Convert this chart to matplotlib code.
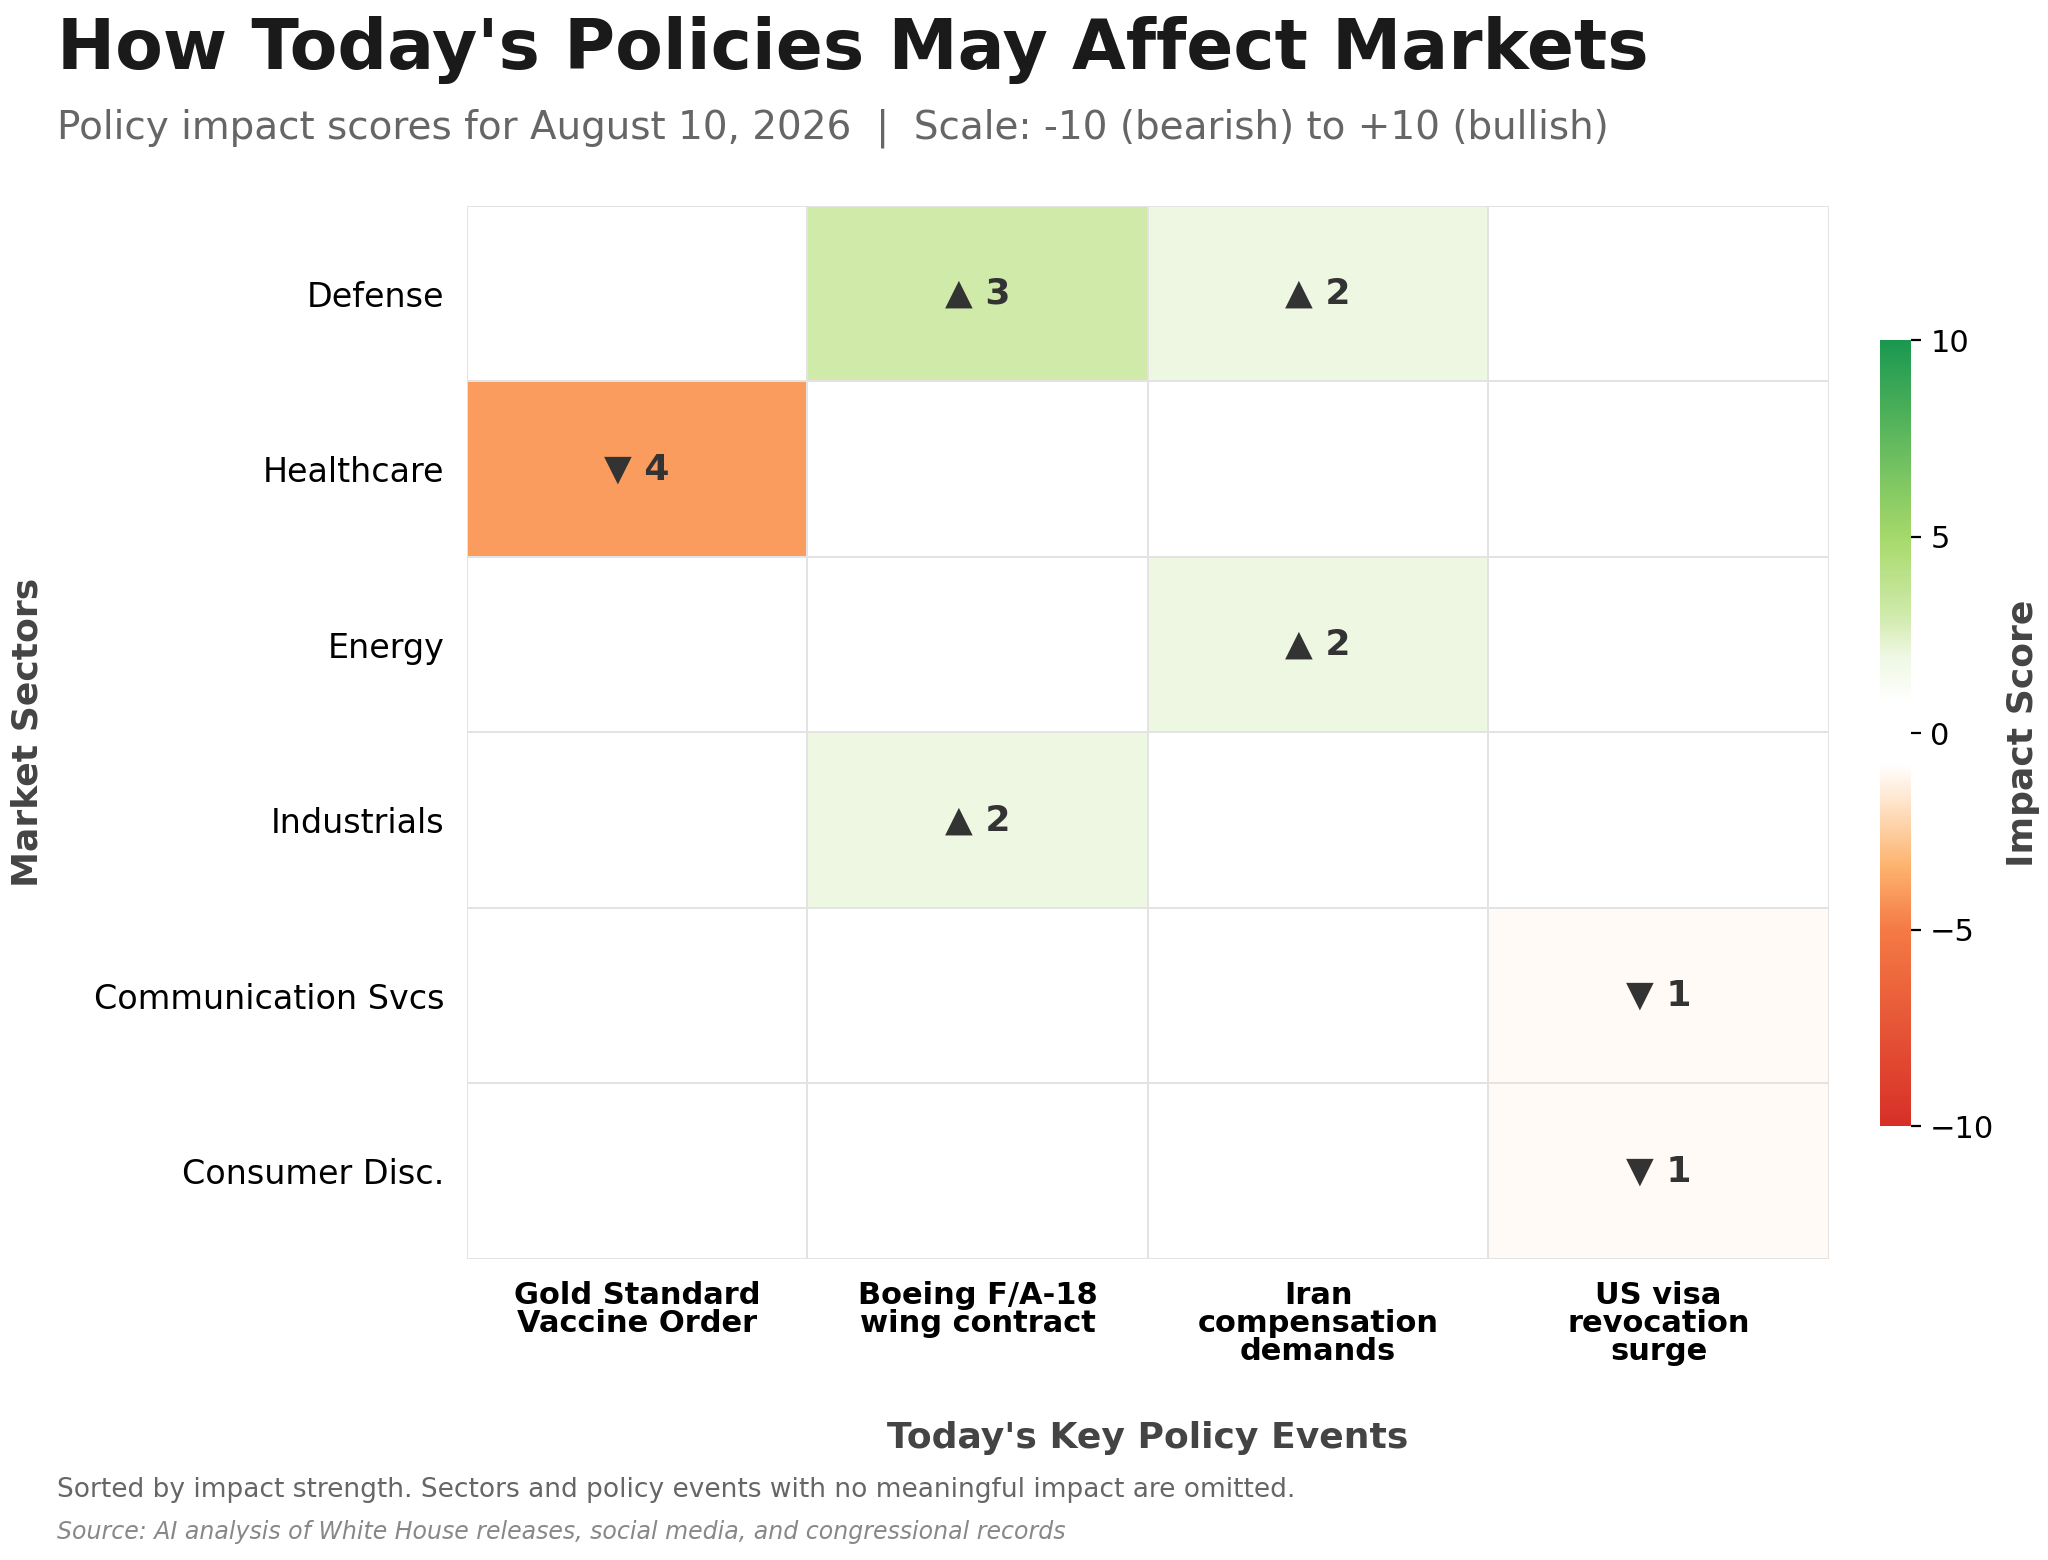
import matplotlib
matplotlib.use("Agg")
import matplotlib.pyplot as plt
import numpy as np
from matplotlib.colors import LinearSegmentedColormap

sectors = ["Defense", "Healthcare", "Energy", "Industrials", "Communication Svcs", "Consumer Disc."]
events = ["Gold Standard\nVaccine Order", "Boeing F/A-18\nwing contract", "Iran\ncompensation\ndemands", "US visa\nrevocation\nsurge"]
scores = np.array([
    [0, 3, 2, 0],
    [-4, 0, 0, 0],
    [0, 0, 2, 0],
    [0, 2, 0, 0],
    [0, 0, 0, -1],
    [0, 0, 0, -1],
])

cmap = LinearSegmentedColormap.from_list("imp", [
    (0.0, "#d73027"), (0.25, "#f57a45"), (0.33, "#fdb36d"), (0.42, "#fee9d4"),
    (0.46, "#ffffff"), (0.54, "#ffffff"), (0.6, "#eef7e2"), (0.65, "#d0eaab"),
    (0.75, "#a6d96a"), (1.0, "#1a9850")])

fig = plt.figure(figsize=(10.24, 7.8), dpi=200)
ax = fig.add_axes([0.228, 0.193, 0.665, 0.675])
im = ax.pcolormesh(scores, cmap=cmap, vmin=-10, vmax=10, edgecolors="#e3e3e3", linewidth=0.6)
ax.set_xlim(0, len(events)); ax.set_ylim(len(sectors), 0)
for s in ax.spines.values():
    s.set_visible(False)
ax.set_xticks(np.arange(len(events)) + 0.5)
ax.set_xticklabels(events, fontsize=11, fontweight="bold", linespacing=0.95, va="top")
ax.set_yticks(np.arange(len(sectors)) + 0.5)
ax.set_yticklabels(sectors, fontsize=12)
ax.tick_params(length=0, pad=8)
for i in range(len(sectors)):
    for j in range(len(events)):
        v = scores[i, j]
        if v != 0:
            sym = "▲" if v > 0 else "▼"
            ax.text(j + 0.5, i + 0.5, f"{sym} {abs(v)}", ha="center", va="center",
                    fontsize=13, fontweight="bold", color="#333333")
ax.set_xlabel("Today's Key Policy Events", fontsize=13, fontweight="bold", color="#444444", labelpad=20)
ax.set_ylabel("Market Sectors", fontsize=13, fontweight="bold", color="#444444", labelpad=18)

cax = fig.add_axes([0.918, 0.278, 0.015, 0.504])
cb = fig.colorbar(im, cax=cax)
cb.outline.set_visible(False)
cb.set_ticks([-10, -5, 0, 5, 10])
cb.ax.tick_params(labelsize=11)
cb.set_label("Impact Score", fontsize=13, fontweight="bold", color="#444444")

fig.text(0.028, 0.968, "How Today's Policies May Affect Markets", fontsize=25, fontweight="bold", color="#1a1a1a", va="center")
fig.text(0.028, 0.918, "Policy impact scores for August 10, 2026  |  Scale: -10 (bearish) to +10 (bullish)", fontsize=14, color="#666666", va="center")
fig.text(0.028, 0.045, "Sorted by impact strength. Sectors and policy events with no meaningful impact are omitted.", fontsize=9.5, color="#666666", va="center")
fig.text(0.028, 0.018, "Source: AI analysis of White House releases, social media, and congressional records", fontsize=8.5, color="#888888", style="italic", va="center")

fig.savefig("out.png", dpi=200)
